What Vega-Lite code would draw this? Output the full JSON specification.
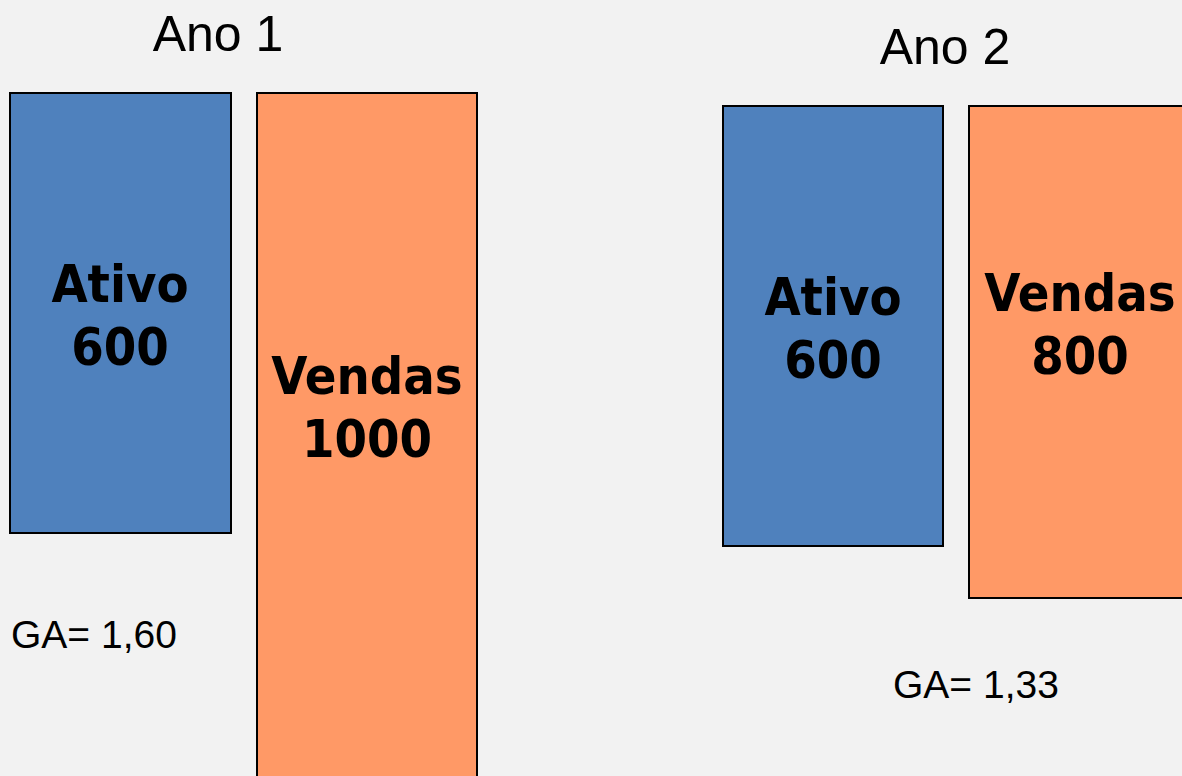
{
  "$schema": "https://vega.github.io/schema/vega-lite/v6.json",
  "width": 1182,
  "height": 776,
  "autosize": {"type": "fit", "contains": "padding"},
  "padding": 0,
  "background": "#f2f2f2",
  "config": {"view": {"stroke": null}},
  "datasets": {
    "barras": [
      {"ano": "Ano 1", "item": "Ativo", "valor": 600, "esq": 10, "dir": 231, "topo": 93, "base": 533},
      {"ano": "Ano 1", "item": "Vendas", "valor": 1000, "esq": 257, "dir": 477, "topo": 93, "base": 830},
      {"ano": "Ano 2", "item": "Ativo", "valor": 600, "esq": 723, "dir": 943, "topo": 106, "base": 546},
      {"ano": "Ano 2", "item": "Vendas", "valor": 800, "esq": 969, "dir": 1190, "topo": 106, "base": 598}
    ],
    "rotulos": [
      {"texto": "Ativo\n600", "cx": 120, "cy": 302},
      {"texto": "Vendas\n1000", "cx": 367, "cy": 394},
      {"texto": "Ativo\n600", "cx": 833, "cy": 315},
      {"texto": "Vendas\n800", "cx": 1080, "cy": 311}
    ],
    "anos": [
      {"texto": "Ano 1", "cx": 218, "cy": 51},
      {"texto": "Ano 2", "cx": 945, "cy": 64}
    ],
    "giro": [
      {"texto": "GA= 1,60", "cx": 11, "cy": 648},
      {"texto": "GA= 1,33", "cx": 893, "cy": 698}
    ]
  },
  "layer": [
    {
      "data": {"name": "barras"},
      "mark": {"type": "rect", "stroke": "#000000", "strokeWidth": 2, "clip": true},
      "encoding": {
        "x": {"field": "esq", "type": "quantitative", "scale": {"domain": [0, 1182], "nice": false, "zero": false}, "axis": null},
        "x2": {"field": "dir"},
        "y": {"field": "topo", "type": "quantitative", "scale": {"domain": [0, 776], "nice": false, "reverse": true, "zero": false}, "axis": null},
        "y2": {"field": "base"},
        "color": {"field": "item", "type": "nominal", "scale": {"domain": ["Ativo", "Vendas"], "range": ["#4f81bd", "#ff9966"]}, "legend": null}
      }
    },
    {
      "data": {"name": "rotulos"},
      "mark": {"type": "text", "font": "DejaVu Sans Condensed, DejaVu Sans", "fontWeight": "bold", "fontSize": 52, "lineBreak": "\n", "lineHeight": 63, "align": "center", "baseline": "alphabetic", "color": "#000000"},
      "encoding": {
        "x": {"field": "cx", "type": "quantitative"},
        "y": {"field": "cy", "type": "quantitative"},
        "text": {"field": "texto"}
      }
    },
    {
      "data": {"name": "anos"},
      "mark": {"type": "text", "font": "Liberation Sans", "fontSize": 50, "align": "center", "baseline": "alphabetic", "color": "#000000"},
      "encoding": {
        "x": {"field": "cx", "type": "quantitative"},
        "y": {"field": "cy", "type": "quantitative"},
        "text": {"field": "texto"}
      }
    },
    {
      "data": {"name": "giro"},
      "mark": {"type": "text", "font": "Liberation Sans", "fontSize": 39, "align": "left", "baseline": "alphabetic", "color": "#000000"},
      "encoding": {
        "x": {"field": "cx", "type": "quantitative"},
        "y": {"field": "cy", "type": "quantitative"},
        "text": {"field": "texto"}
      }
    }
  ]
}
